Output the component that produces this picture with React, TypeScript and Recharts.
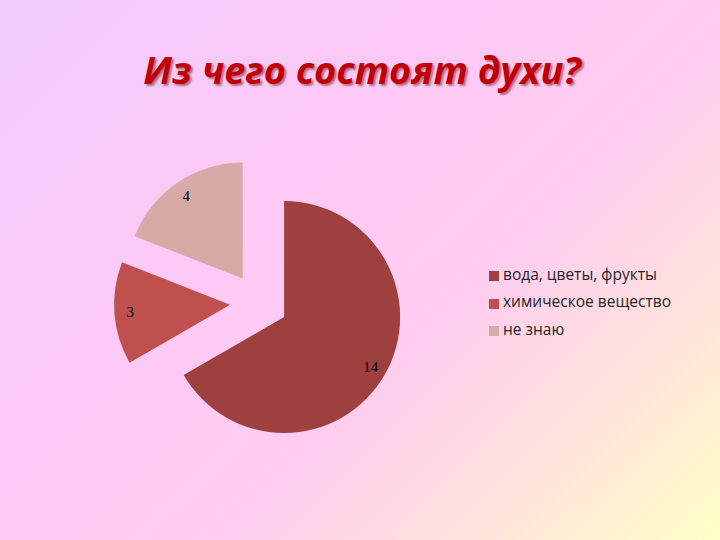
import React from 'react'
import { PieChart, Pie, Cell, Legend, Sector } from 'recharts'

const categories = ['вода, цветы, фрукты', 'химическое вещество', 'не знаю']
const values = [14, 3, 4]
const colors = ['#9E403E', '#C0504D', '#D7A9A7']

const data = categories.map((name, i) => ({ name, value: values[i] }))

const RAD = Math.PI / 180
const EXPLODE = 29

// every slice is pulled out along its bisector, like the exploded pie in Excel
const ExplodedSector = (props: any) => {
  const { cx, cy, midAngle } = props
  const dx = EXPLODE * Math.cos(-midAngle * RAD)
  const dy = EXPLODE * Math.sin(-midAngle * RAD)
  return <Sector {...props} cx={cx + dx} cy={cy + dy} />
}

const renderLabel = (props: any) => {
  const { cx, cy, midAngle, value } = props
  const r = 100 + EXPLODE
  const x = cx + r * Math.cos(-midAngle * RAD)
  const y = cy + r * Math.sin(-midAngle * RAD)
  return (
    <text
      x={x}
      y={y}
      textAnchor="middle"
      dominantBaseline="central"
      fill="#000"
      style={{ fontFamily: 'Liberation Serif, DejaVu Serif, serif', fontSize: 15 }}
    >
      {value}
    </text>
  )
}

export default function App() {
  return (
    <div
      style={{
        position: 'absolute',
        left: 0,
        top: 0,
        width: 720,
        height: 540,
        overflow: 'hidden',
        background:
          'linear-gradient(135deg, #EFCCFA 0%, #FFC9F6 40%, #FFCDF0 60%, #FFE3DC 80%, #FFFFC6 100%)',
      }}
    >
      <div
        style={{
          position: 'absolute',
          left: 0,
          top: 43,
          width: 724,
          textAlign: 'center',
          fontFamily: 'Open Sans, DejaVu Sans, sans-serif',
          fontWeight: 700,
          fontStyle: 'italic',
          fontSize: 38,
          color: '#C00008',
          textShadow: '2px 2px 2px rgba(90,0,0,0.45)',
        }}
      >
        Из чего состоят духи?
      </div>
      <PieChart width={720} height={540} style={{ position: 'absolute', left: 0, top: 0 }}>
        <Pie
          data={data}
          dataKey="value"
          nameKey="name"
          cx={254}
          cy={297.5}
          outerRadius={116}
          startAngle={90}
          endAngle={-270}
          stroke="none"
          shape={ExplodedSector}
          activeShape={ExplodedSector}
          label={renderLabel}
          labelLine={false}
          isAnimationActive={false}
        >
          {data.map((d, i) => (
            <Cell key={d.name} fill={colors[i]} />
          ))}
        </Pie>
        <Legend
          layout="vertical"
          align="right"
          verticalAlign="top"
          iconType="square"
          iconSize={10}
          itemSorter={(item: any) => categories.indexOf(item.value)}
          formatter={(v: string) => (
            <span style={{ color: '#262626', fontFamily: 'Open Sans, DejaVu Sans, sans-serif', fontSize: 15.5 }}>{v}</span>
          )}
          wrapperStyle={{ left: 489, top: 261, width: 230, lineHeight: '27.3px' }}
        />
      </PieChart>
    </div>
  )
}
